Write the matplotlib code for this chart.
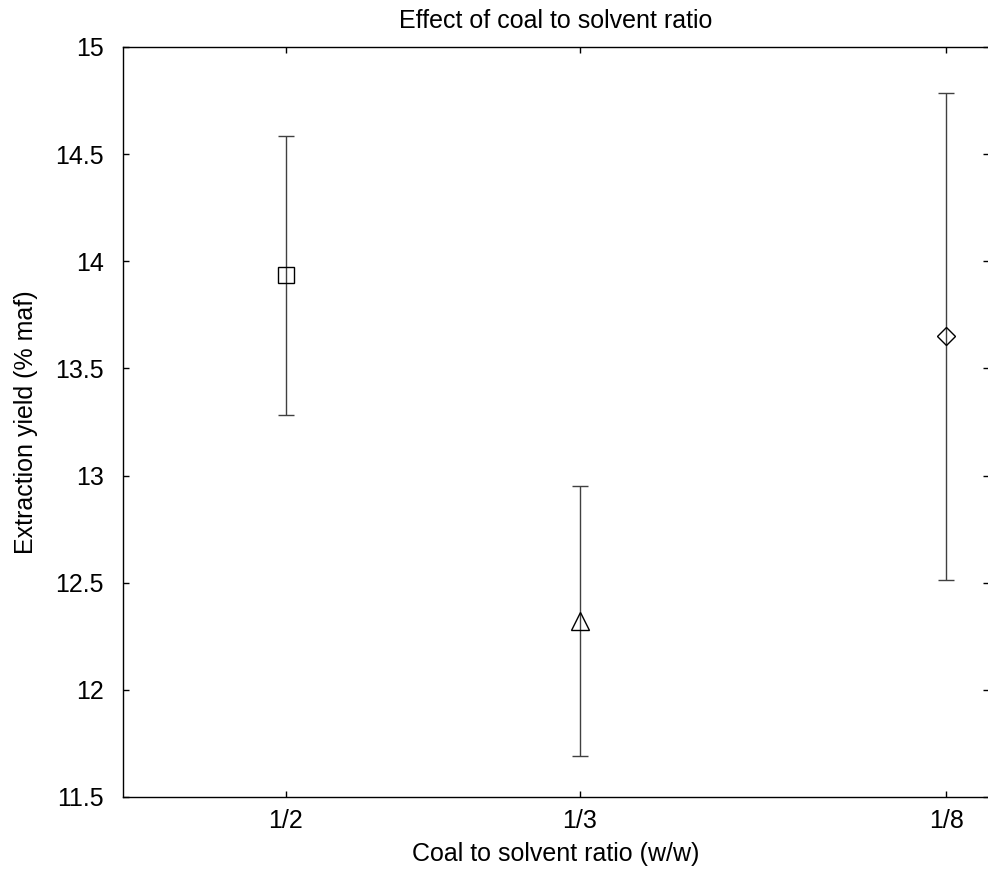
import matplotlib
matplotlib.use("Agg")
import matplotlib.pyplot as plt

# Extraction yield for each coal-to-solvent ratio
ratios = ["1/2", "1/3", "1/8"]
x_pos = [1.0, 2.0, 3.245]
yield_mean = [13.935, 12.322, 13.650]
yield_err = [0.650, 0.629, 1.137]
markers = ["s", "^", "D"]
marker_sizes = [11.5, 13.0, 9.0]

plt.rcParams["font.family"] = ["Liberation Sans", "DejaVu Sans"]
FS = 18

fig = plt.figure(figsize=(9.88, 8.73), dpi=100)
W, H = 988, 873
left, right, top, bottom = 123, 989, 47, 797
ax = fig.add_axes([left / W, 1 - bottom / H, (right - left) / W, (bottom - top) / H])

for x, m, e, mk, ms in zip(x_pos, yield_mean, yield_err, markers, marker_sizes):
    ax.errorbar(x, m, yerr=e, fmt=mk, color="black", ecolor="#404040",
                mfc="none", mec="black", ms=ms, mew=1.0, elinewidth=1.0,
                capsize=6, capthick=1.0)

ax.set_xlim(0.446, 3.391)
ax.set_ylim(11.5, 15)
ax.set_xticks(x_pos)
ax.set_xticklabels(ratios)
ax.set_yticks([11.5, 12, 12.5, 13, 13.5, 14, 14.5, 15])
ax.set_yticklabels(["11.5", "12", "12.5", "13", "13.5", "14", "14.5", "15"])

ax.tick_params(direction="in", length=4, width=1.0, top=True, right=True,
               labelsize=FS)
ax.tick_params(axis="x", pad=9)
ax.tick_params(axis="y", pad=14)
for s in ax.spines.values():
    s.set_linewidth(1.0)

ax.set_title("Effect of coal to solvent ratio", fontsize=FS, pad=14)
ax.set_xlabel("Coal to solvent ratio (w/w)", fontsize=FS, labelpad=6)
ax.set_ylabel("Extraction yield (% maf)", fontsize=FS, labelpad=12)

fig.savefig("out.png", dpi=100)
